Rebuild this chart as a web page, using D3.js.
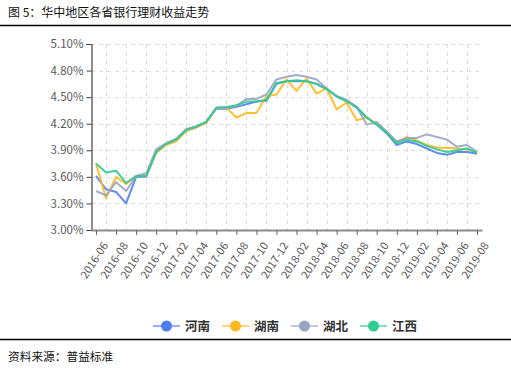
<!DOCTYPE html>
<html>
<head>
<meta charset="utf-8">
<script src="https://cdn.jsdelivr.net/npm/d3@7"></script>
<style>
  body { margin: 0; background: #fff; }
  svg { display: block; }
</style>
</head>
<body>
<div id="chart"></div>
<script>
// month labels, 2016-06 .. 2019-08
const months = [];
for (let y = 2016, m = 6; y < 2019 || (y === 2019 && m <= 8); m++) {
    if (m > 12) { m = 1; y++; }
    months.push(y + '-' + String(m).padStart(2, '0'));
}

const yTicks = [3.0, 3.3, 3.6, 3.9, 4.2, 4.5, 4.8, 5.1];

const henan = [3.61, 3.46, 3.43, 3.30, 3.60, 3.60, 3.88, 3.97, 4.02, 4.12, 4.16, 4.22, 4.37, 4.37, 4.39, 4.42, 4.45, 4.46, 4.65, 4.68,
    4.68, 4.68, 4.65, 4.59, 4.51, 4.46, 4.38, 4.27, 4.19, 4.09, 3.96, 4.00, 3.97, 3.92, 3.87, 3.85, 3.88, 3.88, 3.86];
const hunan = [3.75, 3.36, 3.60, 3.52, 3.61, 3.61, 3.87, 3.96, 4.00, 4.12, 4.16, 4.21, 4.38, 4.38, 4.27, 4.32, 4.32, 4.51, 4.53, 4.70,
    4.57, 4.71, 4.54, 4.60, 4.36, 4.44, 4.24, 4.27, 4.20, 4.11, 3.99, 4.05, 4.01, 3.96, 3.93, 3.93, 3.92, 3.91, 3.88];
const hubei = [3.44, 3.39, 3.54, 3.44, 3.61, 3.64, 3.91, 3.98, 4.03, 4.14, 4.17, 4.22, 4.38, 4.38, 4.40, 4.48, 4.48, 4.53, 4.70, 4.73,
    4.75, 4.73, 4.70, 4.60, 4.51, 4.47, 4.39, 4.19, 4.22, 4.11, 4.00, 4.04, 4.04, 4.08, 4.05, 4.02, 3.94, 3.96, 3.88];
const jiangxi = [3.75, 3.65, 3.67, 3.53, 3.61, 3.61, 3.88, 3.97, 4.02, 4.13, 4.17, 4.22, 4.38, 4.39, 4.41, 4.45, 4.45, 4.47, 4.66, 4.68,
    4.69, 4.68, 4.65, 4.59, 4.51, 4.45, 4.39, 4.27, 4.19, 4.10, 3.98, 4.02, 4.00, 3.95, 3.91, 3.88, 3.90, 3.92, 3.87];

const seriesNames = ['河南', '湖南', '湖北', '江西'];
const seriesColors = ['#4f7ef2', '#ffb81f', '#9aa3c4', '#2ecc8f'];
const seriesData = [henan, hunan, hubei, jiangxi];

const W = 511, H = 373;
const plot = { left: 91, right: 482, top: 44, bottom: 230 };
const font = '"Noto Sans CJK SC", "Noto Sans", sans-serif';

const svg = d3.select('#chart').append('svg')
    .attr('width', W)
    .attr('height', H);

// title + rules
svg.append('text')
    .attr('x', 8).attr('y', 17)
    .attr('font-family', font).attr('font-size', 12)
    .attr('fill', '#111')
    .text('图 5：华中地区各省银行理财收益走势');
svg.append('line')
    .attr('x1', 0).attr('x2', W).attr('y1', 25.5).attr('y2', 25.5)
    .attr('stroke', '#000').attr('stroke-width', 1.3);
svg.append('line')
    .attr('x1', 0).attr('x2', W).attr('y1', 339.5).attr('y2', 339.5)
    .attr('stroke', '#000').attr('stroke-width', 1.3);
svg.append('text')
    .attr('x', 8).attr('y', 361)
    .attr('font-family', font).attr('font-size', 11.7)
    .attr('fill', '#111')
    .text('资料来源：普益标准');

const x = d3.scalePoint()
    .domain(months)
    .range([plot.left, plot.right])
    .padding(0.5);

const y = d3.scaleLinear()
    .domain([3.0, 5.1])
    .range([plot.bottom, plot.top]);

// grid
const grid = svg.append('g')
    .attr('stroke', '#dcdcdc')
    .attr('stroke-dasharray', '4,4')
    .attr('stroke-width', 1);
grid.selectAll('.hg')
    .data(yTicks.slice(1))
    .enter().append('line')
    .attr('x1', plot.left).attr('x2', plot.right)
    .attr('y1', d => Math.round(y(d)) + 0.5)
    .attr('y2', d => Math.round(y(d)) + 0.5);
grid.selectAll('.vg')
    .data(months.filter((d, i) => i % 2 === 1))
    .enter().append('line')
    .attr('x1', d => Math.round(x(d)) + 0.5)
    .attr('x2', d => Math.round(x(d)) + 0.5)
    .attr('y1', plot.top).attr('y2', plot.bottom);

// y axis
const yAxis = svg.append('g')
    .attr('transform', `translate(${plot.left + 0.5},0)`)
    .call(d3.axisLeft(y).tickValues(yTicks).tickSize(5).tickPadding(3)
        .tickFormat(d => d.toFixed(2) + '%'));
yAxis.select('.domain').attr('stroke', '#444').attr('stroke-width', 1.2);
yAxis.selectAll('.tick line').attr('stroke', '#444');
yAxis.selectAll('text')
    .attr('font-family', font).attr('font-size', 11.5)
    .attr('fill', '#595959');

// x axis
const xAxis = svg.append('g')
    .attr('transform', `translate(0,${plot.bottom})`)
    .call(d3.axisBottom(x)
        .tickValues(months.filter((d, i) => i % 2 === 0))
        .tickSize(5).tickSizeOuter(0));
xAxis.select('.domain').attr('stroke', '#8c8c8c').attr('stroke-width', 2);
xAxis.selectAll('.tick line').attr('stroke', '#666');
xAxis.selectAll('text')
    .attr('font-family', font).attr('font-size', 11)
    .attr('fill', '#595959')
    .attr('text-anchor', 'end')
    .attr('dy', '0.35em')
    .attr('transform', 'translate(2,9) rotate(-57)');

// lines
const line = d3.line()
    .x((d, i) => x(months[i]))
    .y(d => y(d));

svg.append('g')
    .selectAll('path')
    .data(seriesData)
    .enter().append('path')
    .attr('d', line)
    .attr('fill', 'none')
    .attr('stroke', (d, i) => seriesColors[i])
    .attr('stroke-width', 2)
    .attr('stroke-opacity', 0.9)
    .attr('stroke-linejoin', 'round');

// legend
const legendX = [153, 222, 291, 360];
const legend = svg.append('g')
    .selectAll('g')
    .data(seriesNames)
    .enter().append('g')
    .attr('transform', (d, i) => `translate(${legendX[i]},326)`);
legend.append('line')
    .attr('x1', 0).attr('x2', 27)
    .attr('stroke', (d, i) => seriesColors[i])
    .attr('stroke-opacity', 0.6)
    .attr('stroke-width', 2);
legend.append('circle')
    .attr('cx', 13.5).attr('r', 5.5)
    .attr('fill', (d, i) => seriesColors[i]);
legend.append('text')
    .attr('x', 32).attr('dy', '0.36em')
    .attr('font-family', font).attr('font-size', 12.5)
    .attr('font-weight', 'bold')
    .attr('fill', '#333')
    .text(d => d);
</script>
</body>
</html>
